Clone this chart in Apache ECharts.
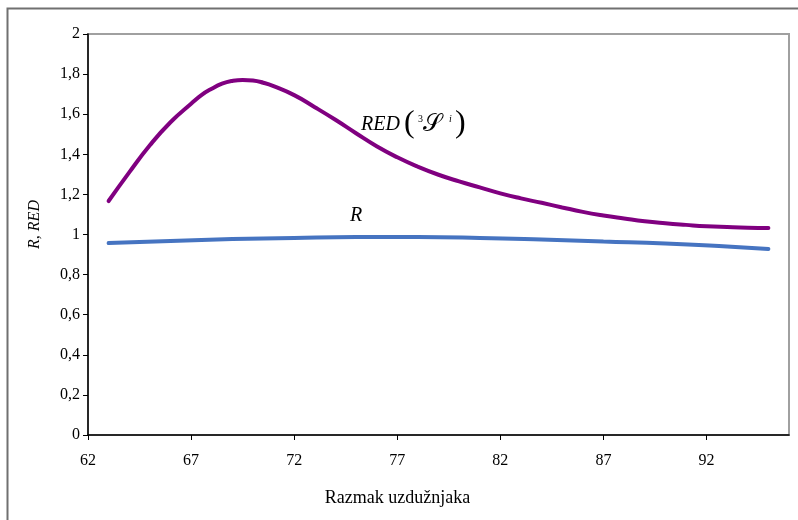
<!DOCTYPE html>
<html>
<head>
<meta charset="utf-8">
<script src="https://cdn.jsdelivr.net/npm/echarts@6/dist/echarts.min.js"></script>
<style>html,body{margin:0;padding:0;background:#fff;}#c{width:798px;height:520px;}</style>
</head>
<body>
<div id="c"></div>
<script>
const xTicks = [62, 67, 72, 77, 82, 87, 92];
const yTicks = [0, 0.2, 0.4, 0.6, 0.8, 1, 1.2, 1.4, 1.6, 1.8, 2];

const redX = [63, 64, 65, 66, 67, 67.5, 68, 68.5, 69, 69.5, 70, 70.5, 71, 72, 73, 74, 75, 76, 77, 78, 79, 80, 81, 82, 83, 84, 85, 86, 87, 88, 89, 90, 91, 92, 93, 94, 95];
const redY = [1.167, 1.31, 1.445, 1.56, 1.652, 1.695, 1.727, 1.752, 1.766, 1.771, 1.768, 1.757, 1.74, 1.695, 1.635, 1.572, 1.505, 1.44, 1.385, 1.338, 1.298, 1.265, 1.235, 1.205, 1.18, 1.158, 1.135, 1.113, 1.095, 1.08, 1.066, 1.056, 1.048, 1.041, 1.037, 1.034, 1.033];

const rX = [63, 66, 69, 72, 75, 78, 81, 84, 87, 90, 93, 95];
const rY = [0.957, 0.968, 0.977, 0.983, 0.987, 0.987, 0.983, 0.975, 0.965, 0.955, 0.94, 0.928];

const serif = '"Liberation Serif", "DejaVu Serif", serif';
const chart = echarts.init(document.getElementById('c'));
chart.setOption({
  animation: false,
  backgroundColor: '#fff',
  grid: { left: 88, right: 9, top: 34, bottom: 85, show: true, borderColor: '#a0a0a0', borderWidth: 2, backgroundColor: 'transparent' },
  xAxis: {
    type: 'value', min: 62, max: 96, interval: 5,
    name: 'Razmak uzdužnjaka', nameLocation: 'middle', nameGap: 54,
    nameTextStyle: { fontFamily: serif, fontSize: 18, color: '#000', padding: [0, 82, 0, 0] },
    axisLine: { show: true, lineStyle: { color: '#000', width: 1.5 } },
    axisTick: { show: true, length: 5, lineStyle: { color: '#000' }, customValues: xTicks },
    axisLabel: { fontFamily: serif, fontSize: 16, color: '#000', margin: 18, customValues: xTicks },
    splitLine: { show: false }
  },
  yAxis: {
    type: 'value', min: 0, max: 2, interval: 0.2,
    name: 'R, RED', nameLocation: 'middle', nameGap: 45,
    nameTextStyle: { fontFamily: serif, fontSize: 16, fontStyle: 'italic', color: '#000', padding: [0, 0, 0, 20] },
    axisLine: { show: true, lineStyle: { color: '#000', width: 1.5 } },
    axisTick: { show: true, length: 5, lineStyle: { color: '#000' }, customValues: yTicks },
    axisLabel: { fontFamily: serif, fontSize: 16, color: '#000', margin: 8, customValues: yTicks,
      formatter: v => String(Math.round(v * 10) / 10).replace('.', ',') },
    splitLine: { show: false }
  },
  graphic: [
    { type: 'rect', left: 5, top: 6, shape: { width: 900, height: 700 }, style: { fill: 'none', stroke: '#707070', lineWidth: 2 }, silent: true, z: -1 },
    { type: 'group', left: 361, top: 108, children: [
      { type: 'text', x: 0, y: 7, style: { text: 'RED', fontFamily: serif, fontStyle: 'italic', fontSize: 20, fill: '#000' } },
      { type: 'text', x: 43, y: 0, style: { text: '(', fontFamily: serif, fontSize: 32, fill: '#000' } },
      { type: 'text', x: 57, y: 6, style: { text: '3', fontFamily: serif, fontSize: 10, fill: '#000' } },
      { type: 'text', x: 62, y: 5, style: { text: '𝒮', fontFamily: '"DejaVu Serif", serif', fontSize: 24, fill: '#000' } },
      { type: 'text', x: 88, y: 6, style: { text: 'i', fontFamily: serif, fontStyle: 'italic', fontSize: 10, fill: '#000' } },
      { type: 'text', x: 94, y: 0, style: { text: ')', fontFamily: serif, fontSize: 32, fill: '#000' } }
    ] },
    { type: 'text', left: 350, top: 206, style: { text: 'R', fontFamily: serif, fontStyle: 'italic', fontSize: 20, fill: '#000' } }
  ],
  series: [
    { name: 'RED', type: 'line', smooth: true, showSymbol: false, symbol: 'none',
      lineStyle: { color: '#800080', width: 4, cap: 'round' },
      data: redX.map((x, i) => [x, redY[i]]) },
    { name: 'R', type: 'line', smooth: true, showSymbol: false, symbol: 'none',
      lineStyle: { color: '#4674c1', width: 4, cap: 'round' },
      data: rX.map((x, i) => [x, rY[i]]) }
  ]
});
</script>
</body>
</html>
